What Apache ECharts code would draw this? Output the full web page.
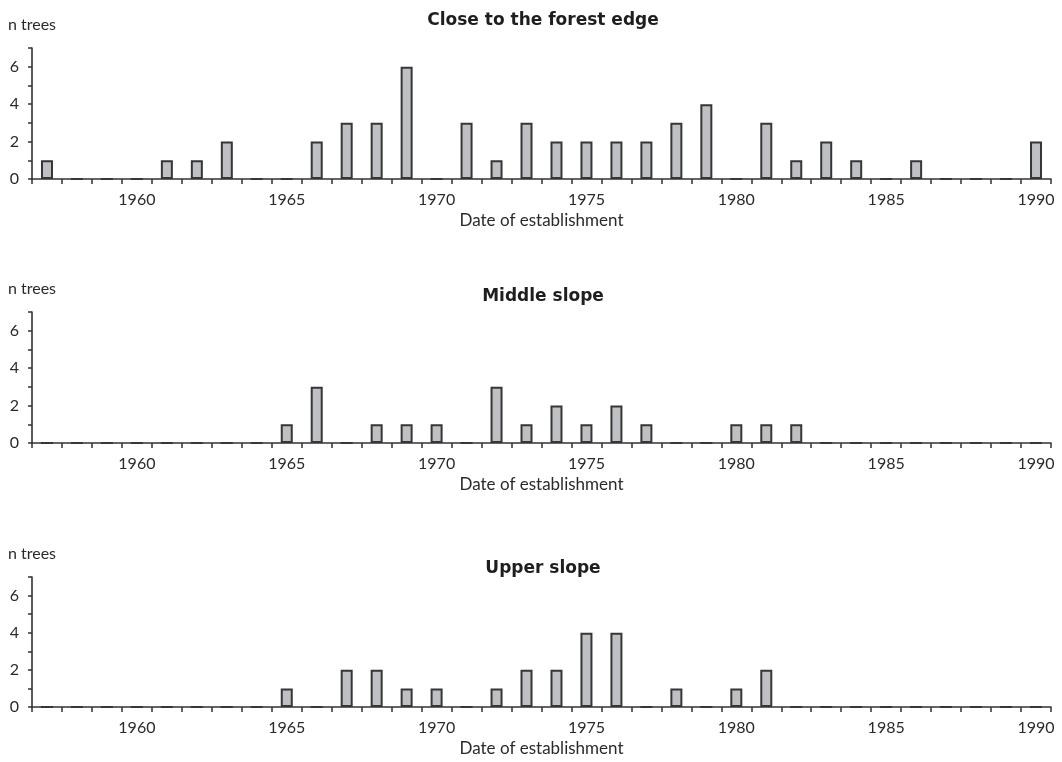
<!DOCTYPE html>
<html>
<head>
<meta charset="utf-8">
<script src="https://cdn.jsdelivr.net/npm/echarts@6/dist/echarts.min.js"></script>
<style>html,body{margin:0;padding:0;background:#fff}#c{width:1062px;height:762px}</style>
</head>
<body>
<div id="c"></div>
<script>
const years = [];
for (let y = 1957; y <= 1990; y++) years.push(String(y));

const panelTitles = ['Close to the forest edge', 'Middle slope', 'Upper slope'];

// 1957 ... 1990
const forestEdge = [1,0,0,0,1,1,2,0,0,2,3,3,6,0,3,1,3,2,2,2,2,3,4,0,3,1,2,1,0,1,0,0,0,2];
const middleSlope = [0,0,0,0,0,0,0,0,1,3,0,1,1,1,0,3,1,2,1,2,1,0,0,1,1,1,0,0,0,0,0,0,0,0];
const upperSlope  = [0,0,0,0,0,0,0,0,1,0,2,2,1,1,0,1,2,2,4,4,0,1,0,1,2,0,0,0,0,0,0,0,0,0];

const yTicks = [0, 2, 4, 6];
const seriesData = [forestEdge, middleSlope, upperSlope];

const FONT = 'Lato';
const TFONT = 'DejaVu Sans';
const TXT = '#2a2a2a';
const grids = [
  {left: 32, right: 11, top: 48, height: 131},
  {left: 32, right: 11, top: 312, height: 131},
  {left: 32, right: 11, top: 577, height: 130}
];
const titleTops = [7, 283, 555];

const chart = echarts.init(document.getElementById('c'), null, {renderer: 'canvas'});
chart.setOption({
  animation: false,
  backgroundColor: '#fff',
  textStyle: {fontFamily: FONT, color: TXT},
  title: panelTitles.map((t, i) => ({
    text: t, left: 538, top: titleTops[i], textAlign: 'center',
    textStyle: {fontFamily: TFONT, fontWeight: 'bold', fontSize: 17, color: '#1e1e1e'}
  })),
  grid: grids,
  xAxis: grids.map((g, i) => ({
    type: 'category', gridIndex: i, data: years, boundaryGap: true,
    name: 'Date of establishment', nameLocation: 'middle', nameGap: 33,
    nameTextStyle: {fontFamily: FONT, fontSize: 17, color: TXT},
    axisLine: {lineStyle: {color: '#333', width: 1.6}},
    axisTick: {show: true, interval: 0, length: 5, lineStyle: {color: '#333', width: 1.5}},
    axisLabel: {
      interval: (idx, val) => Number(val) % 5 === 0,
      margin: 13, fontFamily: FONT, fontSize: 16, color: TXT
    },
    splitLine: {show: false}
  })),
  yAxis: grids.map((g, i) => ({
    type: 'value', gridIndex: i, min: 0, max: 7, interval: 1,
    name: 'n trees', nameLocation: 'end', nameGap: 15,
    nameTextStyle: {fontFamily: FONT, fontSize: 16, color: TXT, align: 'center'},
    axisLine: {show: true, lineStyle: {color: '#333', width: 1.6}},
    axisTick: {show: true, length: 4, lineStyle: {color: '#333', width: 1.5}},
    axisLabel: {
      margin: 13, fontFamily: FONT, fontSize: 16, color: TXT,
      formatter: v => yTicks.includes(v) ? String(v) : ''
    },
    splitLine: {show: false}
  })),
  series: seriesData.map((d, i) => ({
    type: 'bar', xAxisIndex: i, yAxisIndex: i, data: d, barWidth: 12,
    itemStyle: {color: '#bfc0c4', borderColor: '#363636', borderWidth: 2}
  }))
});
</script>
</body>
</html>
